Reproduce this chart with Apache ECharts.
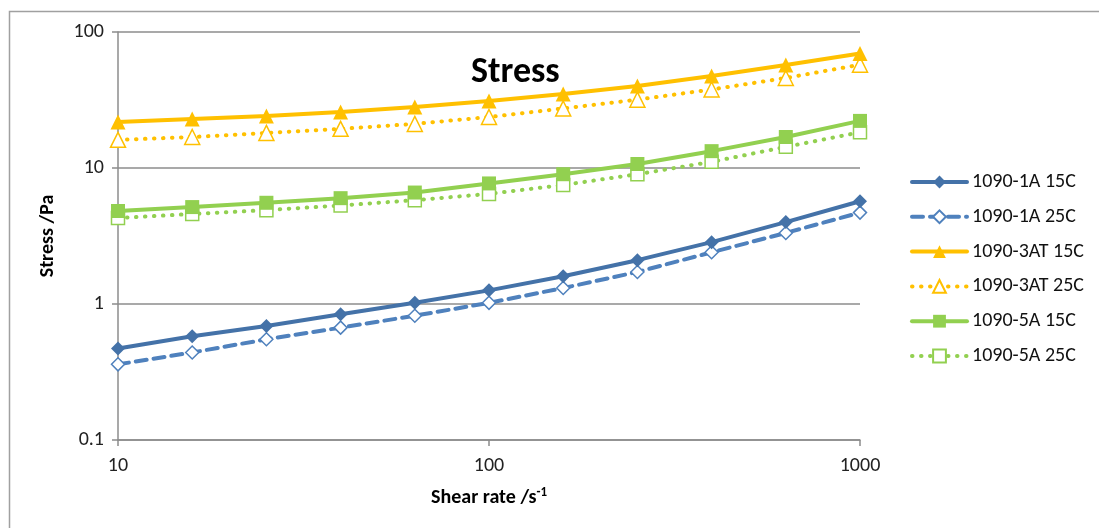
<!DOCTYPE html>
<html>
<head>
<meta charset="utf-8">
<script src="https://cdn.jsdelivr.net/npm/echarts@6/dist/echarts.min.js"></script>
<style>html,body{margin:0;padding:0;background:#fff;}#c{width:1099px;height:528px;}</style>
</head>
<body>
<div id="c"></div>
<script>
const shearRate = [10, 15.85, 25.12, 39.81, 63.1, 100, 158.5, 251.2, 398.1, 631, 1000];
const seriesNames = ['1090-1A 15C', '1090-1A 25C', '1090-3AT 15C', '1090-3AT 25C', '1090-5A 15C', '1090-5A 25C'];
const s1A15 = [0.47, 0.58, 0.69, 0.84, 1.02, 1.26, 1.60, 2.10, 2.85, 4.0, 5.7];
const s1A25 = [0.36, 0.44, 0.55, 0.67, 0.82, 1.02, 1.31, 1.72, 2.40, 3.33, 4.7];
const s3AT15 = [21.8, 22.9, 24.1, 25.8, 28.1, 31.1, 35.0, 40.1, 47.4, 57.1, 69.5];
const s3AT25 = [16.1, 16.9, 18.1, 19.4, 21.1, 23.7, 27.4, 31.8, 37.8, 45.9, 57.5];
const s5A15 = [4.83, 5.16, 5.55, 6.0, 6.6, 7.7, 9.0, 10.7, 13.3, 16.9, 22.2];
const s5A25 = [4.29, 4.59, 4.9, 5.3, 5.8, 6.45, 7.5, 9.0, 11.1, 14.3, 18.3];
const yTicks = [0.1, 1, 10, 100];
const xTicks = [10, 100, 1000];

const FONT = 'Carlito, Lato, "Open Sans", sans-serif';
const values = [s1A15, s1A25, s3AT15, s3AT25, s5A15, s5A25];
const styles = [
  {color: '#4472A8', symbol: 'diamond', size: 14, fill: true, type: 'solid', width: 4},
  {color: '#4F81BD', symbol: 'diamond', size: 13, fill: false, type: [11, 7], width: 4},
  {color: '#FFC000', symbol: 'triangle', size: 15, fill: true, type: 'solid', width: 4},
  {color: '#FFC000', symbol: 'triangle', size: 15, fill: false, type: [0.5, 8.5], width: 4},
  {color: '#92D050', symbol: 'rect', size: 14, fill: true, type: 'solid', width: 4},
  {color: '#92D050', symbol: 'rect', size: 13, fill: false, type: [0.5, 8.5], width: 4}
];

const series = seriesNames.map((name, i) => {
  const st = styles[i];
  return {
    name: name,
    type: 'line',
    data: shearRate.map((x, j) => [x, values[i][j]]),
    symbol: st.symbol,
    symbolSize: st.size,
    showAllSymbol: true,
    lineStyle: {color: st.color, width: st.width, type: st.type, cap: 'round'},
    itemStyle: {color: st.fill ? st.color : '#fff', borderColor: st.color, borderWidth: st.fill ? 0 : 1.5},
    emphasis: {disabled: true},
    z: 10 - i
  };
});

const chart = echarts.init(document.getElementById('c'), null, {renderer: 'canvas'});
chart.setOption({
  animation: false,
  backgroundColor: '#fff',
  textStyle: {fontFamily: FONT},
  title: {
    text: 'Stress', left: 466, top: 50,
    textStyle: {fontFamily: FONT, fontSize: 36, fontWeight: 'bold', color: '#000'}
  },
  grid: {left: 118, right: 239, top: 32, bottom: 88, containLabel: false},
  xAxis: {
    type: 'log', logBase: 10, min: xTicks[0], max: xTicks[xTicks.length - 1],
    name: 'Shear rate /s{sup|-1}', nameLocation: 'middle', nameGap: 46,
    nameTextStyle: {
      fontFamily: FONT, fontSize: 20, fontWeight: 'bold', color: '#000',
      rich: {sup: {fontFamily: FONT, fontSize: 13, fontWeight: 'bold', color: '#000', padding: [0, 0, 10, 0]}}
    },
    axisLine: {show: true, lineStyle: {color: '#8c8c8c', width: 1.5}},
    axisTick: {show: true, inside: false, length: 6, lineStyle: {color: '#8c8c8c', width: 1.5}},
    minorTick: {show: false},
    splitLine: {show: false},
    axisLabel: {fontFamily: FONT, fontSize: 20, color: '#222', margin: 16,
      formatter: v => String(Math.round(v))}
  },
  yAxis: {
    type: 'log', logBase: 10, min: yTicks[0], max: yTicks[yTicks.length - 1],
    name: 'Stress /Pa', nameLocation: 'middle', nameGap: 60, nameRotate: 90,
    nameTextStyle: {fontFamily: FONT, fontSize: 20, fontWeight: 'bold', color: '#000'},
    axisLine: {show: true, lineStyle: {color: '#8c8c8c', width: 1.5}},
    axisTick: {show: true, inside: false, length: 6, lineStyle: {color: '#8c8c8c', width: 1.5}},
    splitLine: {show: true, lineStyle: {color: '#8c8c8c', width: 1.5}},
    axisLabel: {fontFamily: FONT, fontSize: 20, color: '#222', margin: 14,
      formatter: v => (v < 1 ? v.toFixed(1) : String(Math.round(v)))}
  },
  legend: {
    orient: 'vertical', left: 905, top: 167,
    itemWidth: 55, itemHeight: 16, itemGap: 14.8,
    lineStyle: {width: 4},
    textStyle: {fontFamily: FONT, fontSize: 20, color: '#111'},
    data: seriesNames
  },
  graphic: [{
    type: 'rect', left: 7, top: 9, z: -10, silent: true,
    shape: {width: 1200, height: 600},
    style: {fill: 'none', stroke: '#a0a0a0', lineWidth: 1.5}
  }],
  series: series
});
</script>
</body>
</html>
